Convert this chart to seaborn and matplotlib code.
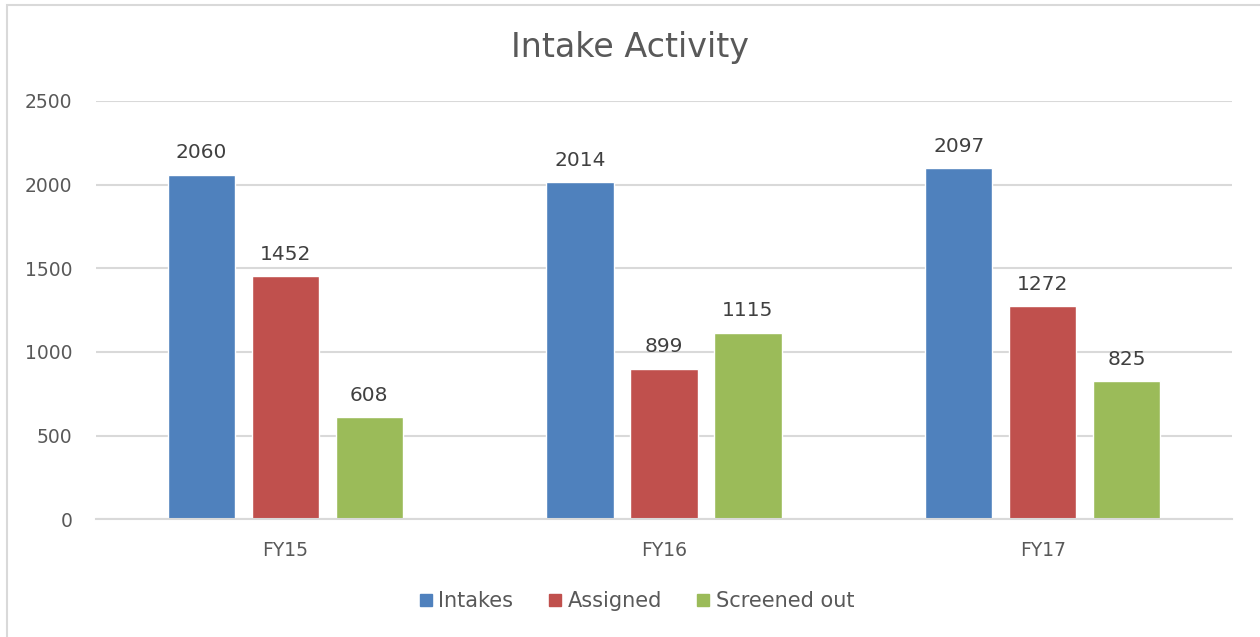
import matplotlib
matplotlib.use("Agg")
import matplotlib.pyplot as plt
import seaborn as sns
import pandas as pd
from matplotlib.patches import Rectangle
from matplotlib.lines import Line2D

# data
years = ["FY15", "FY16", "FY17"]
series = ["Intakes", "Assigned", "Screened out"]
intakes = [2060, 2014, 2097]
assigned = [1452, 899, 1272]
screened_out = [608, 1115, 825]
colors = ["#4F81BD", "#C0504D", "#9BBB59"]

df = pd.DataFrame({
    "year": years * 3,
    "series": [series[0]] * 3 + [series[1]] * 3 + [series[2]] * 3,
    "value": intakes + assigned + screened_out,
})

sns.set_style("white")
plt.rcParams["font.family"] = ["DejaVu Sans"]
text_col = "#595959"

fig = plt.figure(figsize=(12.6, 6.37), dpi=100)
ax = fig.add_axes([0.076, 0.185, 0.902, 0.6566])

sns.barplot(data=df, x="year", y="value", hue="series", palette=colors,
            width=0.665, gap=0.2, ax=ax, legend=False, saturation=1)

ax.set_ylim(0, 2500)
ax.set_xlim(-0.5, 2.5)
ax.set_yticks(range(0, 2501, 500))
ax.yaxis.grid(True, color="#D9D9D9", linewidth=1.5)
ax.set_axisbelow(True)
for s in ["top", "right", "left"]:
    ax.spines[s].set_visible(False)
ax.spines["bottom"].set_color("#D9D9D9")
ax.spines["bottom"].set_linewidth(1.5)
ax.tick_params(axis="both", length=0, labelsize=13.5, colors=text_col)
ax.tick_params(axis="y", pad=17)
ax.tick_params(axis="x", pad=16)
ax.set_xlabel("")
ax.set_ylabel("")

for cont in ax.containers:
    ax.bar_label(cont, padding=9, fontsize=14.5, color="#404040")

fig.text(0.5, 0.925, "Intake Activity", ha="center", va="center",
         fontsize=24, color=text_col)

handles = [Line2D([], [], marker="s", linestyle="none", markersize=9,
                  markerfacecolor=c, markeredgecolor=c) for c in colors]
fig.legend(handles, series, loc="center", bbox_to_anchor=(0.503, 0.056),
           ncol=3, frameon=False, fontsize=15, labelcolor=text_col,
           handletextpad=0.0, columnspacing=1.4, handlelength=1.2)

# chart border
fig.add_artist(Rectangle((7 / 1260, -0.1), 1.2, 1 - 5 / 637 + 0.1,
                         transform=fig.transFigure, fill=False,
                         edgecolor="#D9D9D9", linewidth=1.5))

fig.savefig("out.png", dpi=100)
